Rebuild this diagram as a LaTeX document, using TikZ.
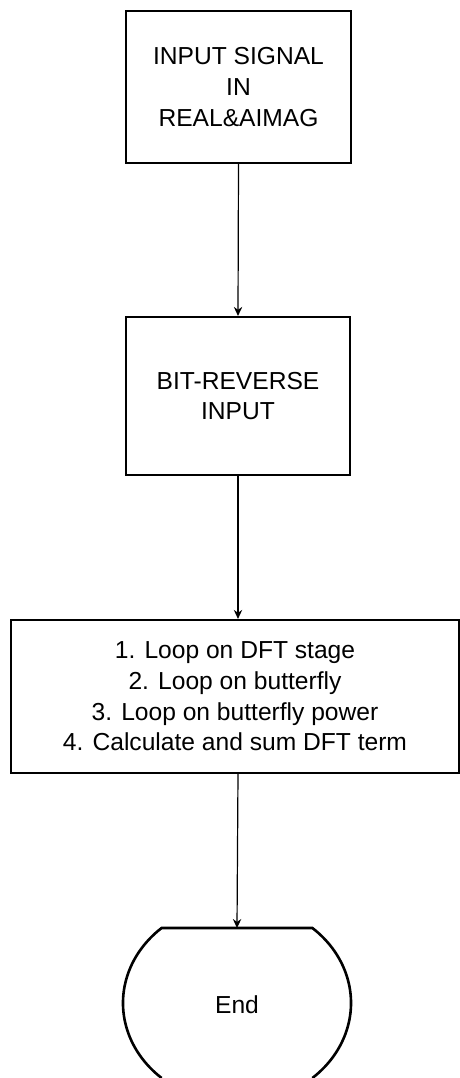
\documentclass[tikz,border=0pt]{standalone}
\usepackage{fontspec}
\setmainfont{Liberation Sans}
\usetikzlibrary{arrows.meta,positioning}

\tikzset{
    box/.style={draw, line width=1.1pt, align=center, inner sep=0pt,
        font=\fontsize{12.3}{15.3}\selectfont},
    flow/.style={-{Stealth[length=4.5pt,width=4.2pt]}, line width=0.6pt},
    endline/.style={line width=1.3pt}
}

\begin{document}
\begin{tikzpicture}[x=0.5pt, y=-0.5pt]
    \useasboundingbox (0,0) rectangle (460,1078);
    % flow boxes
    \node[box, minimum width=112.5pt, minimum height=76pt] (input) at (238.5,87)
        {INPUT SIGNAL\\IN\\REAL\&AIMAG};
    \node[box, minimum width=112pt, minimum height=79pt] (bitrev) at (238,396)
        {BIT-REVERSE\\INPUT};
    \node[box, minimum width=224pt, minimum height=76.5pt] (loops) at (235,696.5)
        {1. Loop on DFT stage\\2. Loop on butterfly\\3. Loop on butterfly power\\4. Calculate and sum DFT term};
    % end terminal
    \node[font=\fontsize{12.3}{15}\selectfont] (end) at (237,1005) {End};
    \coordinate (endtop) at (237,928);
    \draw[endline] (161.6,1078) arc[start angle=131.4, end angle=228.6, x radius=114, y radius=100]
        -- (312.4,928) arc[start angle=-48.6, end angle=48.6, x radius=114, y radius=100];
    % arrows
    \draw[flow] (input.south) -- (bitrev.north);
    \draw[flow] (bitrev.south) -- (bitrev.south |- loops.north);
    \draw[flow] (bitrev.south |- loops.south) -- (endtop);
\end{tikzpicture}
\end{document}
